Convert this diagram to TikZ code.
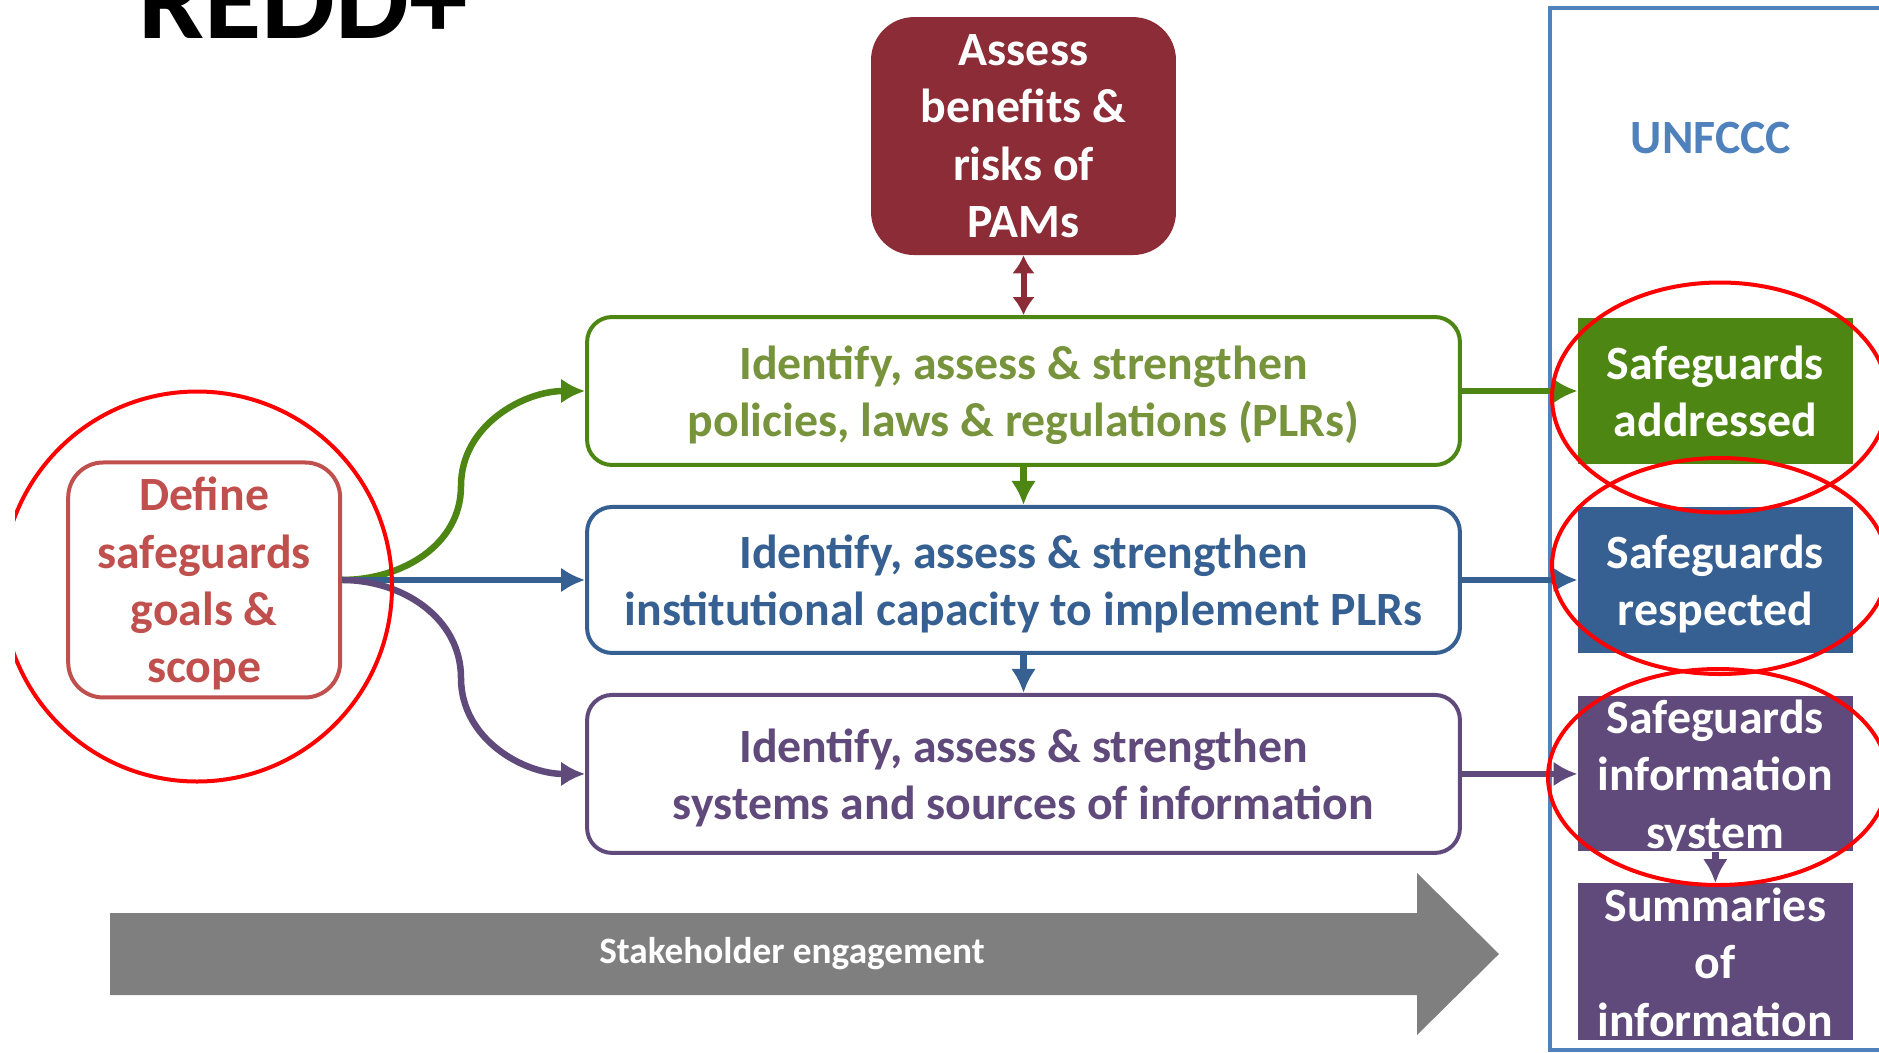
\documentclass[tikz,border=0pt]{standalone}
\usepackage{fontspec}
\setmainfont{Carlito}
\usetikzlibrary{positioning,arrows.meta}
\definecolor{pamred}{HTML}{8B2C36}
\definecolor{plrgreen}{HTML}{4E8614}
\definecolor{plrolive}{HTML}{77933C}
\definecolor{capblue}{HTML}{376092}
\definecolor{infopurple}{HTML}{5F4A7B}
\definecolor{goalred}{HTML}{C0504D}
\definecolor{unfblue}{HTML}{4F81BD}
\definecolor{stakegray}{HTML}{7F7F7F}
\begin{document}
\begin{tikzpicture}[x=0.02cm, y=-0.02cm, font=\bfseries\fontsize{27.2}{32.7}\selectfont]
\tikzstyle{arrow} = [line width = 0.13cm, -{Latex[length = 0.48cm, width = 0.5cm]}] % standard connector
\tikzstyle{task} = [draw, rectangle, rounded corners = 0.5cm, line width = 0.08cm, minimum width = 17.46cm, text depth = 0pt, align = center] % white task box
\tikzstyle{result} = [rectangle, text = white, minimum width = 5.5cm, inner sep = 0pt, text depth = 0pt, align = center] % filled result box
\tikzstyle{ring} = [red, line width = 0.08cm] % red highlight ring
\useasboundingbox (0,0) rectangle (1879,1052); % page of the reference
\clip (0,0) rectangle (1879,1052);
\node(title)[anchor = base west, inner sep = 0pt, font = \bfseries\fontsize{66.7}{80}\selectfont] at (138,38){REDD+}; % cut-off title
\draw[unfblue, line width = 0.07cm](1550,8) rectangle (1900,1050); % UNFCCC panel
\node(unfccc)[text = unfblue] at (1711,138){UNFCCC};
% the three task boxes, PLR box is the reference for the rest
\node(plr)[task, plrgreen, text = plrolive, minimum height = 2.96cm] at (1023.5,391){Identify, assess \& strengthen\\policies, laws \& regulations (PLRs)};
\node(capacity)[task, capblue, minimum height = 2.92cm, below of = plr, node distance = 3.78cm]{Identify, assess \& strengthen\\institutional capacity to implement PLRs};
\node(info)[task, infopurple, minimum height = 3.16cm, below of = capacity, node distance = 3.88cm]{Identify, assess \& strengthen\\systems and sources of information};
\node(assess)[fill = pamred, text = white, rounded corners = 0.86cm, minimum width = 6.1cm, minimum height = 4.76cm, align = center, above of = plr, node distance = 5.1cm]{Assess\\benefits \&\\risks of\\PAMs};
\node(define)[draw = goalred, text = goalred, line width = 0.08cm, rounded corners = 0.7cm, minimum width = 5.44cm, minimum height = 4.7cm, text depth = 0pt, align = center, left of = capacity, node distance = 16.39cm]{Define\\safeguards\\goals \&\\scope};
% results on the UNFCCC side
\node(addressed)[result, fill = plrgreen, minimum height = 2.94cm, right of = plr, node distance = 13.84cm]{Safeguards\\addressed};
\node(respected)[result, fill = capblue, minimum height = 2.92cm, right of = capacity, node distance = 13.84cm]{Safeguards\\respected};
\node(sis)[result, fill = infopurple, minimum height = 3.1cm, right of = info, node distance = 13.84cm]{Safeguards\\information\\system};
\node(summaries)[result, fill = infopurple, minimum height = 3.14cm, below of = sis, node distance = 3.76cm]{Summaries\\of\\information};
% connectors
\coordinate(upbend) at (461,486);
\coordinate(downbend) at (461,678);
\draw[arrow, plrgreen](define.east) to[out = 0, in = -90] (upbend) to[out = 90, in = 180] (plr.west);
\draw[arrow, capblue](define.east) -- (capacity.west);
\draw[arrow, infopurple](define.east) to[out = 0, in = 90] (downbend) to[out = -90, in = 180] (info.west);
\draw[pamred, line width = 0.12cm, {Latex[length = 0.36cm, width = 0.46cm]}-{Latex[length = 0.36cm, width = 0.46cm]}](assess.south) -- (plr.north);
\draw[arrow, plrgreen](plr.south) -- (capacity.north);
\draw[arrow, capblue](capacity.south) -- (info.north);
\draw[arrow, plrgreen](plr.east) -- (addressed.west);
\draw[arrow, capblue](capacity.east) -- (respected.west);
\draw[arrow, infopurple](info.east) -- (sis.west);
\draw[arrow, infopurple](sis.south) -- (summaries.north);
% stakeholder arrow along the bottom
\fill[stakegray](110,913) -- (1417,913) -- (1417,873) -- (1499,954) -- (1417,1035) -- (1417,995) -- (110,995) -- cycle;
\node(stake)[text = white, font = \bfseries\fontsize{21.2}{25}\selectfont] at (792,954){Stakeholder engagement};
% red highlight rings
\begin{scope}
\clip (15,0) rectangle (1879,1052);
\draw[ring](197,586.5) circle[radius = 195];
\end{scope}
\draw[ring](1720,397.5) ellipse[x radius = 168, y radius = 115];
\draw[ring](1720,566) ellipse[x radius = 168, y radius = 108];
\draw[ring](1718,777) ellipse[x radius = 170, y radius = 108];
\end{tikzpicture}
\end{document}
